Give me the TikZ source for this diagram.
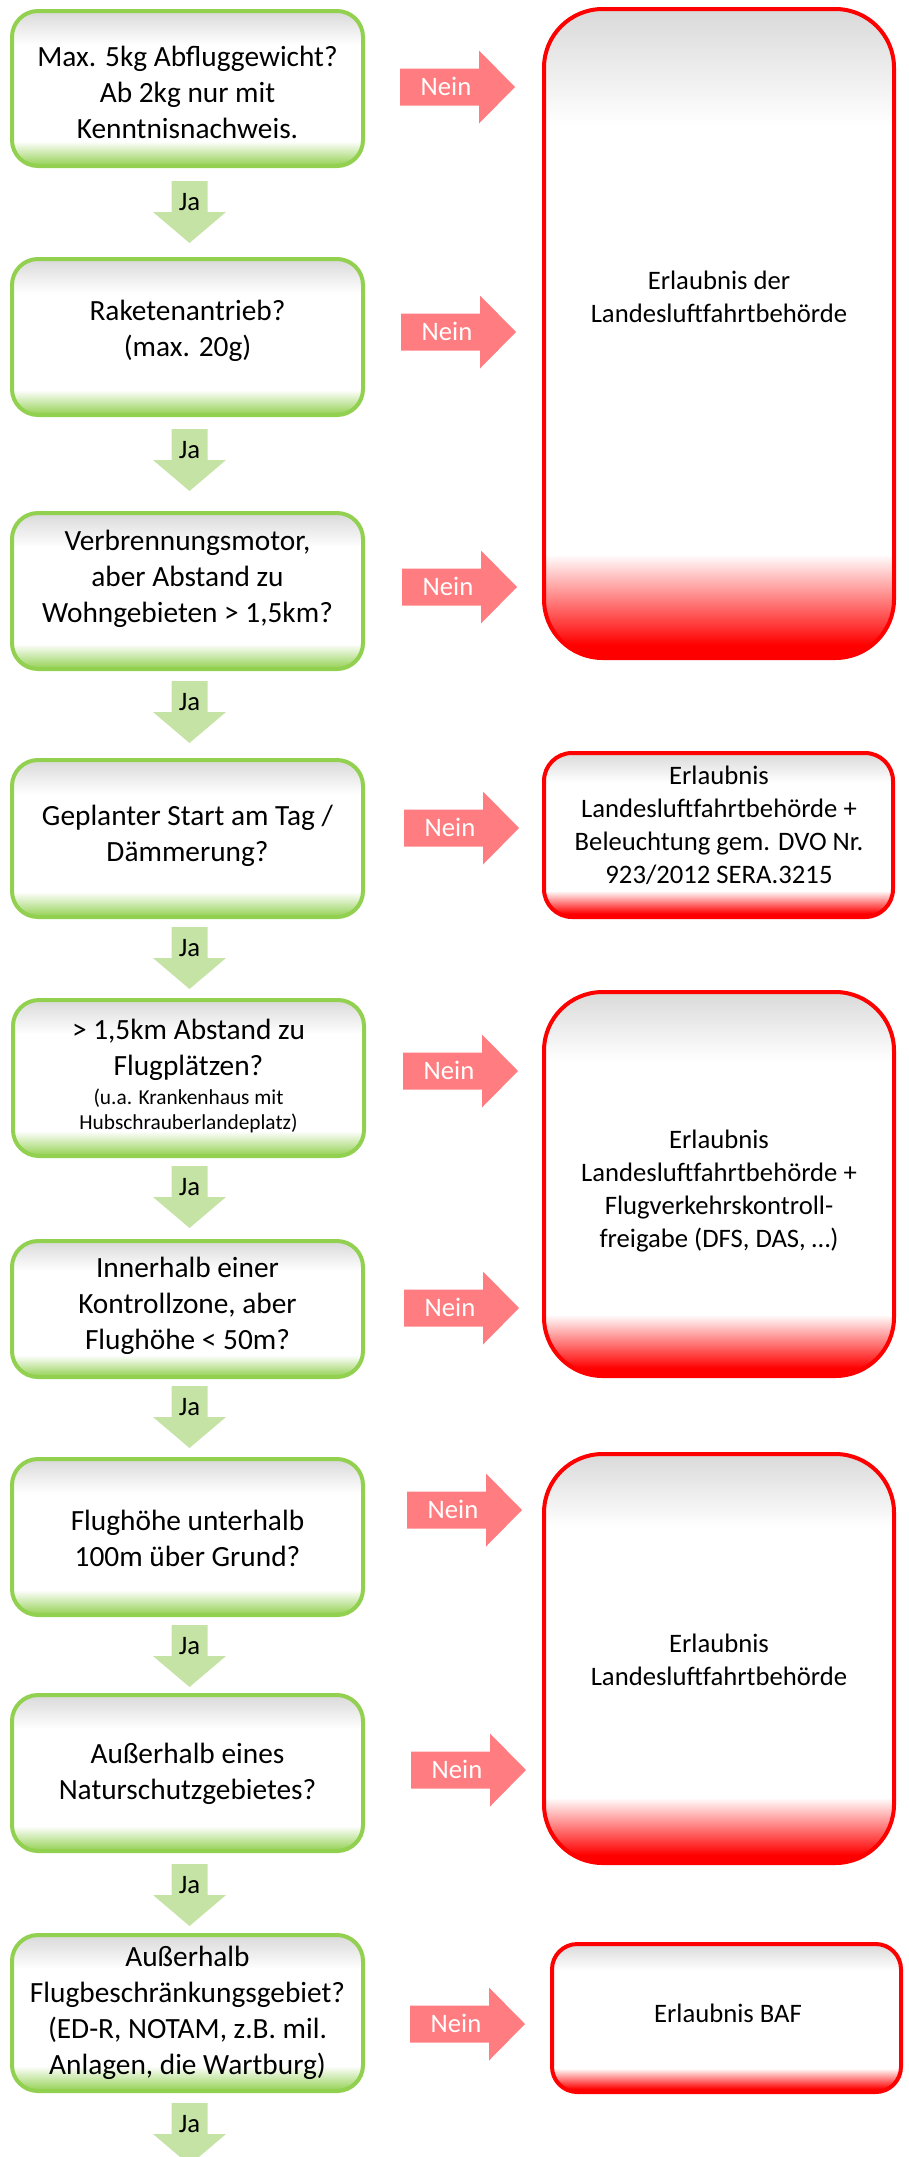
\documentclass[tikz,border=0pt]{standalone}
\usepackage{fontspec}
\setmainfont{Carlito}
\usepackage{tikz}
\usetikzlibrary{fit}

\definecolor{gruen}{HTML}{92D050}
\definecolor{hellgruen}{RGB}{197,227,164}
\definecolor{lachs}{HTML}{FF7C80}
\definecolor{rot}{HTML}{FF0000}
\definecolor{grau}{HTML}{D9D9D9}

\pgfdeclareverticalshading{gruenverlauf}{100bp}{color(0bp)=(gruen); color(25bp)=(gruen); color(33bp)=(white); color(64bp)=(white); color(75bp)=(grau); color(100bp)=(grau)}
\pgfdeclareverticalshading{rotverlauf}{100bp}{color(0bp)=(rot); color(25bp)=(rot); color(26bp)=(rot); color(33bp)=(white); color(66bp)=(white); color(75bp)=(grau); color(100bp)=(grau)}

\tikzset{
	frage/.style={draw=gruen, line width=3pt, shading=gruenverlauf, rounded corners=19.5pt, inner sep=0pt},
	erlaubnis/.style={draw=rot, line width=3pt, shading=rotverlauf, inner sep=0pt},
	fragetext/.style={align=center, font=\fontsize{22}{27}\selectfont},
	erltext/.style={align=center, font=\fontsize{20}{24.75}\selectfont},
	pfeiltext/.style={anchor=base, font=\fontsize{20}{24}\selectfont}
}

\begin{document}
\begin{tikzpicture}[x=0.75pt,y=-0.75pt]
	\useasboundingbox (0,0) rectangle (908,2157);
	% Fragen zeichnen
	\node[frage, fit={(12,11) (363,166)}] (f1) {};
	\node[frage, fit={(12,259) (363,415)}] (f2) {};
	\node[frage, fit={(12,513) (363,669)}] (f3) {};
	\node[frage, fit={(12,760) (363,917)}] (f4) {};
	\node[frage, fit={(13,1000) (364,1156)}] (f5) {};
	\node[frage, fit={(12,1241) (363,1377)}] (f6) {};
	\node[frage, fit={(12,1459) (363,1615)}] (f7) {};
	\node[frage, fit={(12,1695) (363,1851)}] (f8) {};
	\node[frage, fit={(12,1935) (363,2091)}] (f9) {};
	\node[fragetext] (t1) at (187.5,92) {Max. 5kg Abfluggewicht?\\ Ab 2kg nur mit\\ Kenntnisnachweis.};
	\node[fragetext] (t2) at (187.5,331) {Raketenantrieb?\\ (max. 20g)};
	\node[fragetext] (t3) at (187.5,579) {Verbrennungsmotor,\\ aber Abstand zu\\ Wohngebieten > 1,5km?};
	\node[fragetext] (t4) at (187.5,836) {Geplanter Start am Tag /\\ Dämmerung?};
	\node[fragetext] (t5) at (188.5,1076) {> 1,5km Abstand zu\\ Flugplätzen?\\[-5pt] {\fontsize{16}{19}\selectfont (u.a. Krankenhaus mit}\\[-8pt] {\fontsize{16}{19}\selectfont Hubschrauberlandeplatz)}};
	\node[fragetext] (t6) at (187.5,1306) {Innerhalb einer\\ Kontrollzone, aber\\ Flughöhe < 50m?};
	\node[fragetext] (t7) at (187.5,1538) {Flughöhe unterhalb\\ 100m über Grund?};
	\node[fragetext] (t8) at (187.5,1774) {Außerhalb eines\\ Naturschutzgebietes?};
	\node[fragetext] (t9) at (187.5,2013) {Außerhalb\\ Flugbeschränkungsgebiet?\\ (ED-R, NOTAM, z.B. mil.\\ Anlagen, die Wartburg)};
	% Erlaubnisse zeichnen
	\node[erlaubnis, rounded corners=44pt, fit={(544,9) (894,658)}] (e1) {};
	\node[erlaubnis, rounded corners=21pt, fit={(544,753) (893,917)}] (e2) {};
	\node[erlaubnis, rounded corners=44pt, fit={(544,992) (894,1376)}] (e3) {};
	\node[erlaubnis, rounded corners=44pt, fit={(544,1454) (894,1863)}] (e4) {};
	\node[erlaubnis, rounded corners=19pt, fit={(552,1944) (901,2092)}] (e5) {};
	\node[erltext] (r1) at (719,297) {Erlaubnis der\\ Landesluftfahrtbehörde};
	\node[erltext] (r2) at (719,825) {Erlaubnis\\ Landesluftfahrtbehörde +\\ Beleuchtung gem. DVO Nr.\\ 923/2012 SERA.3215};
	\node[erltext] (r3) at (719,1191) {Erlaubnis\\ Landesluftfahrtbehörde +\\ Flugverkehrskontroll-\\ freigabe (DFS, DAS, …)};
	\node[erltext] (r4) at (719,1660) {Erlaubnis\\ Landesluftfahrtbehörde};
	\node[erltext] (r5) at (728,2013) {Erlaubnis BAF};
	% Pfeile Nein
	\foreach \l/\c/\n in {400/87/1, 401/332/2, 402/587/3, 404/828/4, 403/1071/5, 404/1308/6, 407/1510/7, 411/1770/8, 410/2024/9}{
		\fill[lachs] (\l,{\c-18.5}) -- ({\l+79},{\c-18.5}) -- ({\l+79},{\c-36.5}) -- ({\l+115},\c) -- ({\l+79},{\c+36.5}) -- ({\l+79},{\c+18.5}) -- (\l,{\c+18.5}) -- cycle;
		\node[pfeiltext, text=white] (nein\n) at ({\l+46},{\c+8.5}) {Nein};
	}
	% Pfeile Ja
	\foreach \t [count=\i] in {181,429,681,927,1166,1386,1625,1864,2103}{
		\fill[hellgruen] (171.5,\t) -- (207.5,\t) -- (207.5,{\t+31}) -- (226,{\t+31}) -- (189.5,{\t+62}) -- (153,{\t+31}) -- (171.5,{\t+31}) -- cycle;
		\node[pfeiltext] (ja\i) at (189.5,{\t+29}) {Ja};
	}
\end{tikzpicture}
\end{document}
